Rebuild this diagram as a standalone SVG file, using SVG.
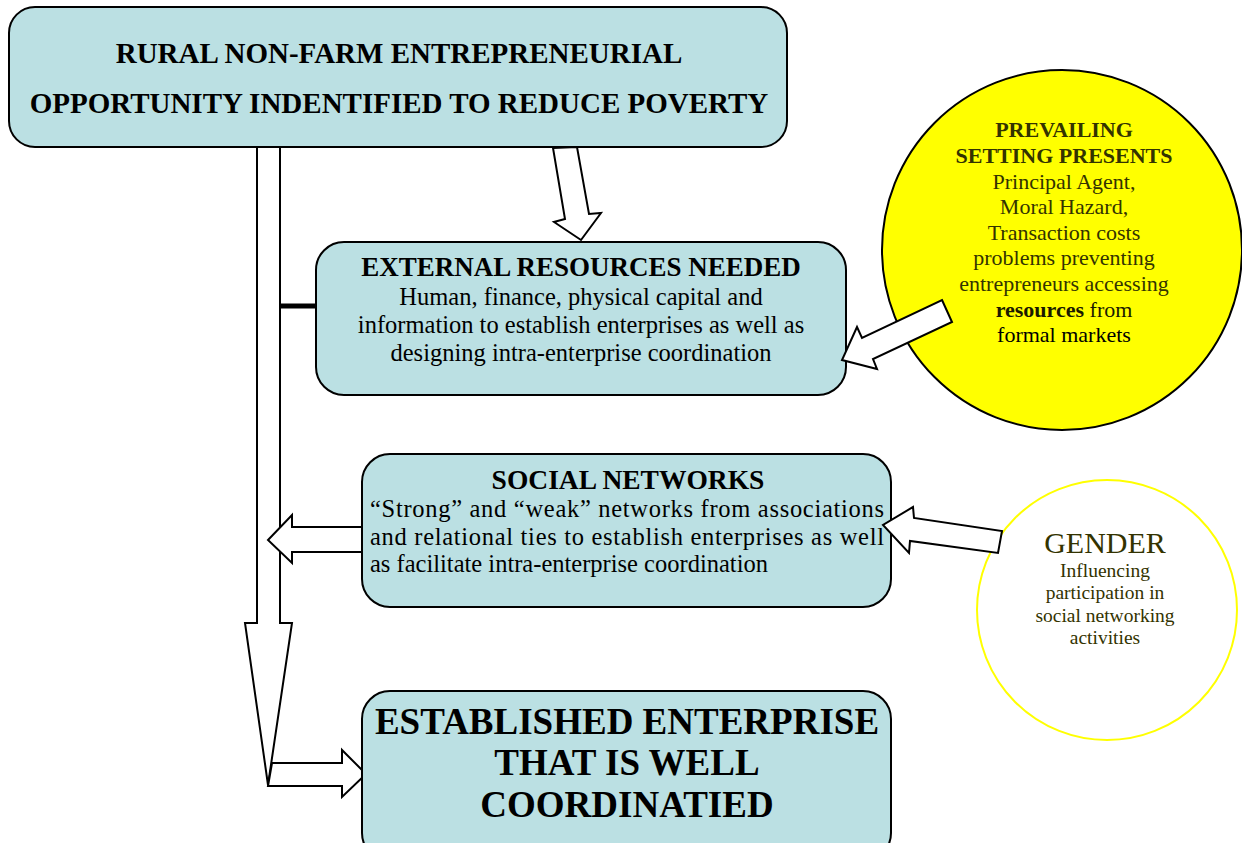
<svg xmlns="http://www.w3.org/2000/svg" width="1242" height="843" viewBox="0 0 1242 843">
<style>
.box{fill:#bbe0e3;stroke:#000;stroke-width:2}
.arr{fill:#fff;stroke:#000;stroke-width:2;stroke-linejoin:miter}
text{font-family:"Liberation Serif","Times New Roman",serif;text-anchor:middle}
.b{font-weight:bold}
.ol{fill:#333300}
.st{text-anchor:start}
</style>
<rect width="1242" height="843" fill="#fff"/>
<g id="connectors">
<polygon class="arr" points="257,147 280,147 280,623 292,623 268,785 245,623 257,623"/>
<line x1="280" y1="306" x2="317" y2="306" stroke="#000" stroke-width="5"/>
<polygon class="arr" points="362,527 292,527 292,515 268,540 292,563 292,552 362,552"/>
<polygon class="arr" points="272,763 342,763 342,750 366,774 342,797 342,786 268,786"/>
<polygon class="arr" points="553,148 577,147 589,214 601,213 581,240 554,222 565,219"/>
</g>
<g id="top">
<rect class="box" x="9" y="7" width="778" height="140" rx="26"/>
<text x="399" y="63" class="b" font-size="29">RURAL NON-FARM ENTREPRENEURIAL</text>
<text x="399" y="113" class="b" font-size="29">OPPORTUNITY INDENTIFIED TO REDUCE POVERTY</text>
</g>
<g id="external">
<rect class="box" x="316" y="242" width="530" height="153" rx="28"/>
<text x="581" y="276" class="b" font-size="27">EXTERNAL RESOURCES NEEDED</text>
<text x="581" y="305" font-size="24.5">Human, finance, physical capital and</text>
<text x="581" y="333" font-size="24.5">information to establish enterprises as well as</text>
<text x="581" y="361" font-size="24.5">designing intra-enterprise coordination</text>
</g>
<g id="social">
<rect class="box" x="362" y="454" width="529" height="153" rx="28"/>
<text x="628" y="489" class="b" font-size="27.5">SOCIAL NETWORKS</text>
<text x="370" y="517" font-size="24.5" class="st" textLength="514" lengthAdjust="spacing">“Strong” and “weak” networks from associations</text>
<text x="370" y="545" font-size="24.5" class="st" textLength="514" lengthAdjust="spacing">and relational ties to establish enterprises as well</text>
<text x="370" y="572" font-size="24.5" class="st">as facilitate intra-enterprise coordination</text>
</g>
<g id="established">
<rect class="box" x="362" y="691" width="529" height="170" rx="28"/>
<text x="627" y="734" class="b" font-size="37">ESTABLISHED ENTERPRISE</text>
<text x="627" y="775" class="b" font-size="37">THAT IS WELL</text>
<text x="627" y="817" class="b" font-size="37">COORDINATIED</text>
</g>
<g id="prevailing">
<ellipse cx="1062" cy="250" rx="180" ry="180" fill="#ffff00" stroke="#000" stroke-width="2"/>
<text x="1064" y="137" class="b ol" font-size="22">PREVAILING</text>
<text x="1064" y="163" class="b ol" font-size="22">SETTING PRESENTS</text>
<text x="1064" y="189" class="ol" font-size="22">Principal Agent,</text>
<text x="1064" y="214" class="ol" font-size="22">Moral Hazard,</text>
<text x="1064" y="240" class="ol" font-size="22">Transaction costs</text>
<text x="1064" y="265" class="ol" font-size="22">problems preventing</text>
<text x="1064" y="291" class="ol" font-size="22">entrepreneurs accessing</text>
<text x="1064" y="317" font-size="22" fill="#1a1a00"><tspan font-weight="bold">resources</tspan> from</text>
<text x="1064" y="342" font-size="22" fill="#000">formal markets</text>
</g>
<g id="gender">
<ellipse cx="1107" cy="610" rx="130" ry="130" fill="#fff" stroke="#ffff00" stroke-width="2"/>
<text x="1105" y="553" class="ol" font-size="30">GENDER</text>
<text x="1105" y="577" class="ol" font-size="19.5">Influencing</text>
<text x="1105" y="599" class="ol" font-size="19.5">participation in</text>
<text x="1105" y="622" class="ol" font-size="19.5">social networking</text>
<text x="1105" y="644" class="ol" font-size="19.5">activities</text>
</g>
<g id="connectors2">
<polygon class="arr" points="942,300 952,322 873,359 877,369 842,360 857,327 862,338"/>
<polygon class="arr" points="1002,531 998,553 910,541 909,553 883,525 913,507 914,518"/>
</g>
</svg>
